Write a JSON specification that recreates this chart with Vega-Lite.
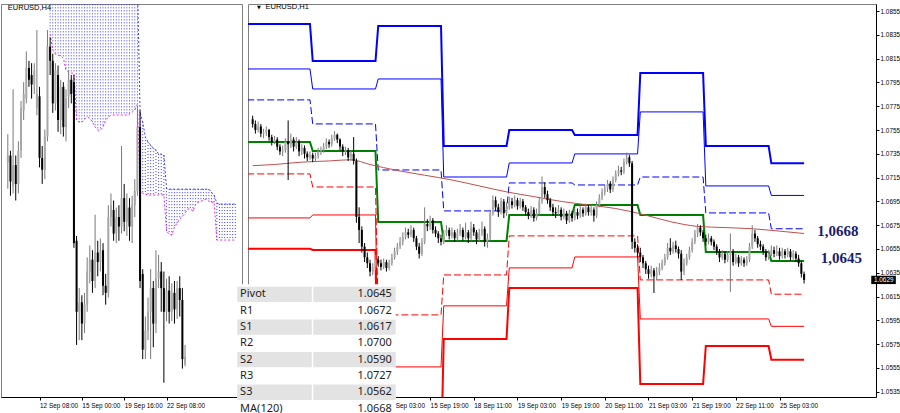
{
"$schema":"https://vega.github.io/schema/vega-lite/v6.json",
"padding":{"left":0,"top":2,"right":0,"bottom":0},
"background":"#ffffff",
"bounds":"flush",
"spacing":6,
"config":{"view":{"stroke":"#808080","strokeWidth":1},"axis":{"labelFont":"Liberation Sans","labelFontSize":6.4,"labelColor":"#000000","tickColor":"#000000","domainColor":"#000000","grid":false,"labelOverlap":false,"labelSeparation":0}},
"datasets":{
"cloud":[
{"j":4,"top":1.079,"bot":1.07673},{"j":5,"top":1.079,"bot":1.07605},{"j":6,"top":1.079,"bot":1.07588},{"j":7,"top":1.079,"bot":1.07584},{"j":8,"top":1.079,"bot":1.0758},{"j":9,"top":1.079,"bot":1.07571},{"j":10,"top":1.079,"bot":1.07521},{"j":11,"top":1.079,"bot":1.07512},{"j":12,"top":1.079,"bot":1.07508},{"j":13,"top":1.079,"bot":1.07508},{"j":14,"top":1.079,"bot":1.0731},{"j":15,"top":1.079,"bot":1.07301},{"j":16,"top":1.079,"bot":1.07301},{"j":17,"top":1.079,"bot":1.07314},{"j":18,"top":1.079,"bot":1.07322},{"j":19,"top":1.079,"bot":1.07318},{"j":20,"top":1.079,"bot":1.07301},{"j":21,"top":1.079,"bot":1.0728},{"j":22,"top":1.079,"bot":1.07267},{"j":23,"top":1.079,"bot":1.07267},{"j":24,"top":1.079,"bot":1.0728},{"j":25,"top":1.079,"bot":1.0731},{"j":26,"top":1.079,"bot":1.07322},{"j":27,"top":1.079,"bot":1.07331},{"j":28,"top":1.079,"bot":1.07331},{"j":29,"top":1.079,"bot":1.07331},{"j":30,"top":1.079,"bot":1.07331},{"j":31,"top":1.079,"bot":1.07331},{"j":32,"top":1.079,"bot":1.07331},{"j":33,"top":1.079,"bot":1.07331},{"j":34,"top":1.079,"bot":1.07335},{"j":35,"top":1.079,"bot":1.07343},{"j":36,"top":1.079,"bot":1.07352},{"j":37,"top":1.079,"bot":1.07377},
{"j":38,"top":1.07343,"bot":1.07005},{"j":39,"top":1.07301,"bot":1.07001},{"j":40,"top":1.07238,"bot":1.06997},{"j":41,"top":1.07217,"bot":1.06993},{"j":42,"top":1.07204,"bot":1.06993},{"j":43,"top":1.07191,"bot":1.06993},{"j":44,"top":1.07183,"bot":1.06993},{"j":45,"top":1.07166,"bot":1.06993},{"j":46,"top":1.07166,"bot":1.06993},{"j":47,"top":1.07162,"bot":1.06993},{"j":48,"top":1.07022,"bot":1.06841},{"j":49,"top":1.07018,"bot":1.06828},{"j":50,"top":1.07018,"bot":1.06824},{"j":51,"top":1.07018,"bot":1.06858},{"j":52,"top":1.07018,"bot":1.06875},{"j":53,"top":1.07018,"bot":1.06892},{"j":54,"top":1.07018,"bot":1.06903},{"j":55,"top":1.07018,"bot":1.06916},{"j":56,"top":1.07018,"bot":1.06934},{"j":57,"top":1.07018,"bot":1.06934},{"j":58,"top":1.07018,"bot":1.06925},{"j":59,"top":1.07018,"bot":1.06955},{"j":60,"top":1.07018,"bot":1.06963},{"j":61,"top":1.07018,"bot":1.06967},{"j":62,"top":1.07018,"bot":1.06972},{"j":63,"top":1.07018,"bot":1.06976},{"j":64,"top":1.07018,"bot":1.06967},{"j":65,"top":1.07005,"bot":1.06963},{"j":66,"top":1.06993,"bot":1.06963},{"j":67,"top":1.06959,"bot":1.06803},{"j":68,"top":1.06955,"bot":1.06803},{"j":69,"top":1.06955,"bot":1.06803},{"j":70,"top":1.06955,"bot":1.06803},{"j":71,"top":1.06955,"bot":1.06803},{"j":72,"top":1.06955,"bot":1.06803},{"j":73,"top":1.06955,"bot":1.06803},{"j":74,"top":1.06955,"bot":1.06803}
],
"h4":[
{"j":-12,"o":1.0713,"h":1.0725,"l":1.0702,"c":1.0716},{"j":-11,"o":1.0716,"h":1.0718,"l":1.0699,"c":1.0705},{"j":-10,"o":1.0703,"h":1.0744,"l":1.07,"c":1.0712},{"j":-9,"o":1.0712,"h":1.0716,"l":1.0697,"c":1.0704},{"j":-8,"o":1.0704,"h":1.0722,"l":1.07,"c":1.0718},{"j":-7,"o":1.0718,"h":1.0739,"l":1.0715,"c":1.0736},{"j":-6,"o":1.0735,"h":1.0747,"l":1.0731,"c":1.0742},{"j":-5,"o":1.074,"h":1.076,"l":1.0738,"c":1.0753},{"j":-4,"o":1.0753,"h":1.0756,"l":1.0745,"c":1.0748},{"j":-3,"o":1.075,"h":1.0755,"l":1.074,"c":1.0746},{"j":-2,"o":1.0746,"h":1.0755,"l":1.0742,"c":1.0752},{"j":-1,"o":1.0736,"h":1.0769,"l":1.0733,"c":1.0742},
{"j":0,"o":1.0741,"h":1.0745,"l":1.0711,"c":1.0715},{"j":1,"o":1.0715,"h":1.072,"l":1.0704,"c":1.071},{"j":2,"o":1.071,"h":1.0727,"l":1.0706,"c":1.0724},{"j":3,"o":1.0724,"h":1.0769,"l":1.0722,"c":1.0762},{"j":4,"o":1.0762,"h":1.0766,"l":1.075,"c":1.0756},{"j":5,"o":1.0756,"h":1.0759,"l":1.0734,"c":1.0738},{"j":6,"o":1.0738,"h":1.0755,"l":1.0735,"c":1.0752},{"j":7,"o":1.075,"h":1.0754,"l":1.0726,"c":1.0731},{"j":8,"o":1.0731,"h":1.0748,"l":1.0725,"c":1.0745},{"j":9,"o":1.0745,"h":1.0747,"l":1.0724,"c":1.0728},{"j":10,"o":1.0728,"h":1.0744,"l":1.0722,"c":1.074},{"j":11,"o":1.0741,"h":1.0752,"l":1.0736,"c":1.0748},{"j":12,"o":1.0748,"h":1.075,"l":1.0738,"c":1.0742},{"j":13,"o":1.0747,"h":1.075,"l":1.0677,"c":1.0679},{"j":14,"o":1.068,"h":1.0682,"l":1.0636,"c":1.065},{"j":15,"o":1.065,"h":1.066,"l":1.0638,"c":1.0654},{"j":16,"o":1.0654,"h":1.0657,"l":1.0638,"c":1.0645},{"j":17,"o":1.0645,"h":1.0658,"l":1.0641,"c":1.0653},{"j":18,"o":1.0653,"h":1.0673,"l":1.065,"c":1.0667},{"j":19,"o":1.0667,"h":1.0678,"l":1.0662,"c":1.0672},{"j":20,"o":1.0672,"h":1.0676,"l":1.0658,"c":1.0663},{"j":21,"o":1.0663,"h":1.0691,"l":1.066,"c":1.0675},{"j":22,"o":1.0675,"h":1.068,"l":1.0665,"c":1.0671},{"j":23,"o":1.0671,"h":1.0681,"l":1.0667,"c":1.0676},{"j":24,"o":1.0676,"h":1.0679,"l":1.0657,"c":1.0661},{"j":25,"o":1.0661,"h":1.0666,"l":1.0653,"c":1.0658},{"j":26,"o":1.0658,"h":1.0695,"l":1.0656,"c":1.069},{"j":27,"o":1.069,"h":1.07,"l":1.0686,"c":1.0695},{"j":28,"o":1.0693,"h":1.0697,"l":1.068,"c":1.0683},{"j":29,"o":1.0683,"h":1.0694,"l":1.0679,"c":1.069},{"j":30,"o":1.069,"h":1.0695,"l":1.068,"c":1.0686},{"j":31,"o":1.0686,"h":1.072,"l":1.0683,"c":1.0698},{"j":32,"o":1.0698,"h":1.0704,"l":1.0684,"c":1.0688},{"j":33,"o":1.0688,"h":1.07,"l":1.0682,"c":1.0694},{"j":34,"o":1.0694,"h":1.0698,"l":1.068,"c":1.0686},{"j":35,"o":1.0686,"h":1.0699,"l":1.0679,"c":1.0695},{"j":36,"o":1.0695,"h":1.0706,"l":1.069,"c":1.0701},{"j":37,"o":1.0701,"h":1.0736,"l":1.0699,"c":1.0728},{"j":38,"o":1.0728,"h":1.0735,"l":1.066,"c":1.0663},{"j":39,"o":1.0666,"h":1.0668,"l":1.063,"c":1.0634},{"j":40,"o":1.0634,"h":1.0648,"l":1.063,"c":1.0642},{"j":41,"o":1.0642,"h":1.0656,"l":1.0638,"c":1.065},{"j":42,"o":1.065,"h":1.0668,"l":1.063,"c":1.066},{"j":43,"o":1.066,"h":1.0663,"l":1.0635,"c":1.0645},{"j":44,"o":1.0645,"h":1.0676,"l":1.0641,"c":1.0664},{"j":45,"o":1.0664,"h":1.0674,"l":1.066,"c":1.0667},{"j":46,"o":1.0667,"h":1.0671,"l":1.065,"c":1.066},{"j":47,"o":1.066,"h":1.0667,"l":1.062,"c":1.065},{"j":48,"o":1.065,"h":1.0664,"l":1.0646,"c":1.0659},{"j":49,"o":1.0659,"h":1.0665,"l":1.0645,"c":1.065},{"j":50,"o":1.065,"h":1.0662,"l":1.0646,"c":1.0658},{"j":51,"o":1.0658,"h":1.0663,"l":1.0645,"c":1.0651},{"j":52,"o":1.0651,"h":1.0663,"l":1.0647,"c":1.066},{"j":53,"o":1.066,"h":1.0665,"l":1.0648,"c":1.0655},{"j":54,"o":1.0655,"h":1.066,"l":1.0626,"c":1.063},{"j":55,"o":1.0628,"h":1.0636,"l":1.0627,"c":1.0631}
],
"h1":[
{"i":2,"o":1.0764,"h":1.0767,"l":1.0757,"c":1.076},{"i":3,"o":1.076,"h":1.0763,"l":1.0752,"c":1.0755},{"i":4,"o":1.0755,"h":1.0762,"l":1.0753,"c":1.0758},{"i":5,"o":1.0758,"h":1.076,"l":1.0749,"c":1.0752},{"i":6,"o":1.0752,"h":1.0756,"l":1.0748,"c":1.0753},{"i":7,"o":1.0753,"h":1.0758,"l":1.075,"c":1.0755},{"i":8,"o":1.0755,"h":1.0756,"l":1.0746,"c":1.0749},{"i":9,"o":1.0749,"h":1.0751,"l":1.0742,"c":1.0745},{"i":10,"o":1.0745,"h":1.075,"l":1.0743,"c":1.0747},{"i":11,"o":1.0747,"h":1.0749,"l":1.0738,"c":1.0741},{"i":12,"o":1.0741,"h":1.0743,"l":1.0734,"c":1.0737},{"i":13,"o":1.0737,"h":1.0742,"l":1.0733,"c":1.0738},{"i":14,"o":1.0738,"h":1.0748,"l":1.0736,"c":1.0745},{"i":15,"o":1.0745,"h":1.0763,"l":1.0713,"c":1.0743},{"i":16,"o":1.0743,"h":1.0752,"l":1.074,"c":1.0747},{"i":17,"o":1.0747,"h":1.0749,"l":1.0737,"c":1.0741},{"i":18,"o":1.0741,"h":1.0749,"l":1.0739,"c":1.0745},{"i":19,"o":1.0745,"h":1.0747,"l":1.0733,"c":1.0737},{"i":20,"o":1.0737,"h":1.0743,"l":1.0734,"c":1.074},{"i":21,"o":1.074,"h":1.0742,"l":1.0731,"c":1.0735},{"i":22,"o":1.0735,"h":1.0737,"l":1.0729,"c":1.0732},{"i":23,"o":1.0732,"h":1.0737,"l":1.073,"c":1.0734},{"i":24,"o":1.0734,"h":1.0736,"l":1.0728,"c":1.0731},{"i":25,"o":1.0731,"h":1.0736,"l":1.0729,"c":1.0733},{"i":26,"o":1.0733,"h":1.074,"l":1.0731,"c":1.0737},{"i":27,"o":1.0737,"h":1.0741,"l":1.0734,"c":1.0738},{"i":28,"o":1.0738,"h":1.0744,"l":1.0736,"c":1.0741},{"i":29,"o":1.0741,"h":1.0748,"l":1.0739,"c":1.0745},{"i":30,"o":1.0745,"h":1.0747,"l":1.074,"c":1.0743},{"i":31,"o":1.0743,"h":1.0751,"l":1.0741,"c":1.0748},{"i":32,"o":1.0748,"h":1.0754,"l":1.0746,"c":1.0751},{"i":33,"o":1.0751,"h":1.0752,"l":1.0744,"c":1.0747},{"i":34,"o":1.0747,"h":1.0748,"l":1.0738,"c":1.0741},{"i":35,"o":1.0741,"h":1.0743,"l":1.0733,"c":1.0737},{"i":36,"o":1.0737,"h":1.0741,"l":1.0734,"c":1.0738},{"i":37,"o":1.0738,"h":1.074,"l":1.0729,"c":1.0732},{"i":38,"o":1.0732,"h":1.0738,"l":1.0729,"c":1.0735},{"i":39,"o":1.0735,"h":1.0749,"l":1.0726,"c":1.0729},{"i":40,"o":1.0729,"h":1.0731,"l":1.0677,"c":1.0682},{"i":41,"o":1.0682,"h":1.069,"l":1.066,"c":1.0671},{"i":42,"o":1.0671,"h":1.0674,"l":1.0652,"c":1.0657},{"i":43,"o":1.0657,"h":1.066,"l":1.0644,"c":1.0648},{"i":44,"o":1.0648,"h":1.0652,"l":1.0639,"c":1.0643},{"i":45,"o":1.0643,"h":1.0646,"l":1.0632,"c":1.0636},{"i":46,"o":1.0636,"h":1.0643,"l":1.0633,"c":1.064},{"i":47,"o":1.064,"h":1.065,"l":1.0637,"c":1.0646},{"i":48,"o":1.0646,"h":1.0649,"l":1.064,"c":1.0643},{"i":49,"o":1.0643,"h":1.0646,"l":1.0637,"c":1.064},{"i":50,"o":1.064,"h":1.0647,"l":1.0638,"c":1.0644},
{"i":51,"o":1.0644,"h":1.0646,"l":1.0636,"c":1.0639},{"i":52,"o":1.0639,"h":1.0646,"l":1.0637,"c":1.0643},{"i":53,"o":1.0643,"h":1.0651,"l":1.0641,"c":1.0648},{"i":54,"o":1.0648,"h":1.0656,"l":1.0646,"c":1.0653},{"i":55,"o":1.0653,"h":1.066,"l":1.065,"c":1.0657},{"i":56,"o":1.0657,"h":1.0665,"l":1.0655,"c":1.0661},{"i":57,"o":1.0661,"h":1.0669,"l":1.0658,"c":1.0665},{"i":58,"o":1.0665,"h":1.0673,"l":1.0663,"c":1.0669},{"i":59,"o":1.0669,"h":1.0672,"l":1.0664,"c":1.0667},{"i":60,"o":1.0667,"h":1.0675,"l":1.0665,"c":1.0671},{"i":61,"o":1.0671,"h":1.0673,"l":1.0661,"c":1.0664},{"i":62,"o":1.0664,"h":1.0666,"l":1.0654,"c":1.0657},{"i":63,"o":1.0657,"h":1.066,"l":1.0647,"c":1.0651},{"i":64,"o":1.0651,"h":1.0664,"l":1.0649,"c":1.0661},{"i":65,"o":1.0661,"h":1.069,"l":1.0659,"c":1.0676},{"i":66,"o":1.0676,"h":1.068,"l":1.067,"c":1.0674},{"i":67,"o":1.0674,"h":1.0683,"l":1.0671,"c":1.0679},{"i":68,"o":1.0679,"h":1.0681,"l":1.0668,"c":1.0671},{"i":69,"o":1.0671,"h":1.0674,"l":1.0665,"c":1.0668},{"i":70,"o":1.0668,"h":1.067,"l":1.066,"c":1.0664},{"i":71,"o":1.0664,"h":1.0667,"l":1.0658,"c":1.0661},{"i":72,"o":1.0661,"h":1.0671,"l":1.0659,"c":1.0668},{"i":73,"o":1.0668,"h":1.0675,"l":1.0666,"c":1.0671},{"i":74,"o":1.0671,"h":1.0673,"l":1.0663,"c":1.0666},{"i":75,"o":1.0666,"h":1.0673,"l":1.0664,"c":1.0669},{"i":76,"o":1.0669,"h":1.0671,"l":1.0661,"c":1.0664},{"i":77,"o":1.0664,"h":1.0672,"l":1.0662,"c":1.0668},{"i":78,"o":1.0668,"h":1.0676,"l":1.0666,"c":1.0671},{"i":79,"o":1.0671,"h":1.0673,"l":1.0662,"c":1.0665},{"i":80,"o":1.0665,"h":1.0677,"l":1.0663,"c":1.0669},{"i":81,"o":1.0669,"h":1.0671,"l":1.066,"c":1.0664},{"i":82,"o":1.0664,"h":1.0678,"l":1.0662,"c":1.0673},{"i":83,"o":1.0673,"h":1.0676,"l":1.0666,"c":1.0669},{"i":84,"o":1.0669,"h":1.0671,"l":1.0659,"c":1.0663},{"i":85,"o":1.0663,"h":1.0672,"l":1.0661,"c":1.0668},{"i":86,"o":1.0668,"h":1.0678,"l":1.0666,"c":1.0672},{"i":87,"o":1.0672,"h":1.0674,"l":1.0657,"c":1.0661},{"i":88,"o":1.0661,"h":1.0668,"l":1.0656,"c":1.0664},{"i":89,"o":1.0664,"h":1.0688,"l":1.0662,"c":1.0685},{"i":90,"o":1.0685,"h":1.07,"l":1.0683,"c":1.0696},{"i":91,"o":1.0696,"h":1.0699,"l":1.0687,"c":1.069},{"i":92,"o":1.069,"h":1.0693,"l":1.0682,"c":1.0686},{"i":93,"o":1.0686,"h":1.0698,"l":1.0684,"c":1.0695},{"i":94,"o":1.0695,"h":1.0697,"l":1.0681,"c":1.0685},{"i":95,"o":1.0685,"h":1.0694,"l":1.0683,"c":1.069},{"i":96,"o":1.069,"h":1.0699,"l":1.0688,"c":1.0695},{"i":97,"o":1.0695,"h":1.0698,"l":1.0689,"c":1.0692},{"i":98,"o":1.0692,"h":1.07,"l":1.069,"c":1.0696},{"i":99,"o":1.0696,"h":1.0698,"l":1.0688,"c":1.0691},{"i":100,"o":1.0691,"h":1.0698,"l":1.0689,"c":1.0695},
{"i":101,"o":1.0695,"h":1.0697,"l":1.0687,"c":1.069},{"i":102,"o":1.069,"h":1.0692,"l":1.0683,"c":1.0686},{"i":103,"o":1.0686,"h":1.0689,"l":1.068,"c":1.0683},{"i":104,"o":1.0683,"h":1.0691,"l":1.0681,"c":1.0688},{"i":105,"o":1.0688,"h":1.069,"l":1.0678,"c":1.0681},{"i":106,"o":1.0681,"h":1.0689,"l":1.0679,"c":1.0685},{"i":107,"o":1.0685,"h":1.0699,"l":1.0683,"c":1.0695},{"i":108,"o":1.0695,"h":1.0716,"l":1.0693,"c":1.0707},{"i":109,"o":1.0707,"h":1.0711,"l":1.0698,"c":1.0701},{"i":110,"o":1.0701,"h":1.0704,"l":1.0693,"c":1.0696},{"i":111,"o":1.0696,"h":1.0698,"l":1.0687,"c":1.069},{"i":112,"o":1.069,"h":1.0693,"l":1.0683,"c":1.0686},{"i":113,"o":1.0686,"h":1.069,"l":1.0681,"c":1.0685},{"i":114,"o":1.0685,"h":1.0692,"l":1.0683,"c":1.0688},{"i":115,"o":1.0688,"h":1.069,"l":1.0679,"c":1.0682},{"i":116,"o":1.0682,"h":1.0689,"l":1.068,"c":1.0685},{"i":117,"o":1.0685,"h":1.0687,"l":1.0676,"c":1.0679},{"i":118,"o":1.0679,"h":1.0688,"l":1.0677,"c":1.0685},{"i":119,"o":1.0685,"h":1.0687,"l":1.0678,"c":1.0681},{"i":120,"o":1.0681,"h":1.0689,"l":1.0679,"c":1.0686},{"i":121,"o":1.0686,"h":1.0689,"l":1.068,"c":1.0683},{"i":122,"o":1.0683,"h":1.0691,"l":1.0681,"c":1.0688},{"i":123,"o":1.0688,"h":1.069,"l":1.0682,"c":1.0685},{"i":124,"o":1.0685,"h":1.0693,"l":1.0683,"c":1.069},{"i":125,"o":1.069,"h":1.0692,"l":1.0683,"c":1.0686},{"i":126,"o":1.0686,"h":1.0691,"l":1.0683,"c":1.0688},{"i":127,"o":1.0688,"h":1.069,"l":1.0678,"c":1.0683},{"i":128,"o":1.0683,"h":1.0695,"l":1.0681,"c":1.0692},{"i":129,"o":1.0692,"h":1.0701,"l":1.069,"c":1.0698},{"i":130,"o":1.0698,"h":1.0706,"l":1.0696,"c":1.0703},{"i":131,"o":1.0703,"h":1.0709,"l":1.07,"c":1.0706},{"i":132,"o":1.0706,"h":1.0713,"l":1.0703,"c":1.071},{"i":133,"o":1.071,"h":1.0712,"l":1.0702,"c":1.0705},{"i":134,"o":1.0705,"h":1.0716,"l":1.0703,"c":1.0713},{"i":135,"o":1.0713,"h":1.0721,"l":1.0711,"c":1.0718},{"i":136,"o":1.0718,"h":1.0725,"l":1.0716,"c":1.0721},{"i":137,"o":1.0721,"h":1.0724,"l":1.0717,"c":1.072},{"i":138,"o":1.072,"h":1.0731,"l":1.0718,"c":1.0728},{"i":139,"o":1.0728,"h":1.0736,"l":1.0726,"c":1.0732},{"i":140,"o":1.0732,"h":1.0734,"l":1.0724,"c":1.0727},{"i":141,"o":1.0727,"h":1.0729,"l":1.0655,"c":1.0661},{"i":142,"o":1.0661,"h":1.0664,"l":1.0652,"c":1.0656},{"i":143,"o":1.0656,"h":1.0659,"l":1.0648,"c":1.0652},{"i":144,"o":1.0652,"h":1.0656,"l":1.0644,"c":1.0648},{"i":145,"o":1.0648,"h":1.065,"l":1.0639,"c":1.0643},{"i":146,"o":1.0643,"h":1.0645,"l":1.0634,"c":1.0638},{"i":147,"o":1.0638,"h":1.0641,"l":1.063,"c":1.0634},{"i":148,"o":1.0634,"h":1.0641,"l":1.0631,"c":1.0637},{"i":149,"o":1.0637,"h":1.0639,"l":1.0618,"c":1.0632},{"i":150,"o":1.0632,"h":1.064,"l":1.0629,"c":1.0636},
{"i":151,"o":1.0636,"h":1.0643,"l":1.0633,"c":1.0639},{"i":152,"o":1.0639,"h":1.0646,"l":1.0637,"c":1.0643},{"i":153,"o":1.0643,"h":1.0651,"l":1.0641,"c":1.0648},{"i":154,"o":1.0648,"h":1.066,"l":1.0646,"c":1.0656},{"i":155,"o":1.0656,"h":1.0664,"l":1.065,"c":1.0653},{"i":156,"o":1.0653,"h":1.0661,"l":1.0651,"c":1.0658},{"i":157,"o":1.0658,"h":1.0662,"l":1.0652,"c":1.0655},{"i":158,"o":1.0655,"h":1.0657,"l":1.0647,"c":1.0651},{"i":159,"o":1.0651,"h":1.0654,"l":1.0629,"c":1.0636},{"i":160,"o":1.0636,"h":1.0647,"l":1.0633,"c":1.0643},{"i":161,"o":1.0643,"h":1.0651,"l":1.0641,"c":1.0648},{"i":162,"o":1.0648,"h":1.0657,"l":1.0646,"c":1.0654},{"i":163,"o":1.0654,"h":1.0664,"l":1.0652,"c":1.0661},{"i":164,"o":1.0661,"h":1.0671,"l":1.0659,"c":1.0668},{"i":165,"o":1.0668,"h":1.0676,"l":1.0665,"c":1.0673},{"i":166,"o":1.0673,"h":1.0675,"l":1.0666,"c":1.0669},{"i":167,"o":1.0669,"h":1.0671,"l":1.0661,"c":1.0664},{"i":168,"o":1.0664,"h":1.0667,"l":1.0658,"c":1.0661},{"i":169,"o":1.0661,"h":1.0668,"l":1.0659,"c":1.0664},{"i":170,"o":1.0664,"h":1.0666,"l":1.0658,"c":1.0661},{"i":171,"o":1.0661,"h":1.0663,"l":1.0654,"c":1.0657},{"i":172,"o":1.0657,"h":1.0659,"l":1.065,"c":1.0653},{"i":173,"o":1.0653,"h":1.0655,"l":1.0644,"c":1.0648},{"i":174,"o":1.0648,"h":1.0654,"l":1.0646,"c":1.0651},{"i":175,"o":1.0651,"h":1.0653,"l":1.0643,"c":1.0646},{"i":176,"o":1.0646,"h":1.0653,"l":1.0644,"c":1.065},{"i":177,"o":1.065,"h":1.0668,"l":1.0619,"c":1.0653},{"i":178,"o":1.0653,"h":1.0655,"l":1.0641,"c":1.0644},{"i":179,"o":1.0644,"h":1.0651,"l":1.0642,"c":1.0648},{"i":180,"o":1.0648,"h":1.065,"l":1.064,"c":1.0643},{"i":181,"o":1.0643,"h":1.0649,"l":1.0641,"c":1.0646},{"i":182,"o":1.0646,"h":1.0648,"l":1.064,"c":1.0643},{"i":183,"o":1.0643,"h":1.0649,"l":1.0641,"c":1.0646},{"i":184,"o":1.0646,"h":1.066,"l":1.0644,"c":1.0657},{"i":185,"o":1.0657,"h":1.0675,"l":1.0655,"c":1.0668},{"i":186,"o":1.0668,"h":1.0671,"l":1.0661,"c":1.0664},{"i":187,"o":1.0664,"h":1.0666,"l":1.0656,"c":1.0659},{"i":188,"o":1.0659,"h":1.0662,"l":1.0654,"c":1.0657},{"i":189,"o":1.0657,"h":1.0659,"l":1.065,"c":1.0653},{"i":190,"o":1.0653,"h":1.0655,"l":1.0645,"c":1.0648},{"i":191,"o":1.0648,"h":1.0654,"l":1.0646,"c":1.0651},{"i":192,"o":1.0651,"h":1.0658,"l":1.0649,"c":1.0654},{"i":193,"o":1.0654,"h":1.0657,"l":1.0648,"c":1.0651},{"i":194,"o":1.0651,"h":1.0658,"l":1.0649,"c":1.0653},{"i":195,"o":1.0653,"h":1.0656,"l":1.0646,"c":1.0649},{"i":196,"o":1.0649,"h":1.0656,"l":1.0647,"c":1.0653},{"i":197,"o":1.0653,"h":1.0655,"l":1.0647,"c":1.065},{"i":198,"o":1.065,"h":1.0656,"l":1.0648,"c":1.0653},{"i":199,"o":1.0653,"h":1.0655,"l":1.0645,"c":1.0648},{"i":200,"o":1.0648,"h":1.0654,"l":1.0646,"c":1.0651},{"i":201,"o":1.0651,"h":1.0653,"l":1.0644,"c":1.0647},{"i":202,"o":1.0647,"h":1.065,"l":1.064,"c":1.0643},{"i":203,"o":1.0643,"h":1.0645,"l":1.0631,"c":1.0634},{"i":204,"o":1.0634,"h":1.0636,"l":1.0626,"c":1.0629}
],
"lv":[
{"k":"R3","i":0,"v":1.08441},{"k":"R3","i":23,"v":1.08441},{"k":"R3","i":24,"v":1.0813},{"k":"R3","i":47,"v":1.0813},{"k":"R3","i":48,"v":1.08424},{"k":"R3","i":71,"v":1.08424},{"k":"R3","i":72,"v":1.07416},{"k":"R3","i":95,"v":1.07416},{"k":"R3","i":96,"v":1.0755},{"k":"R3","i":119,"v":1.0755},{"k":"R3","i":120,"v":1.07508},{"k":"R3","i":143,"v":1.07508},{"k":"R3","i":144,"v":1.08029},{"k":"R3","i":167,"v":1.08029},{"k":"R3","i":168,"v":1.07416},{"k":"R3","i":191,"v":1.07416},{"k":"R3","i":192,"v":1.0727},{"k":"R3","i":204,"v":1.0727},
{"k":"R2","i":0,"v":1.08063},{"k":"R2","i":23,"v":1.08063},{"k":"R2","i":24,"v":1.07895},{"k":"R2","i":47,"v":1.07895},{"k":"R2","i":48,"v":1.07979},{"k":"R2","i":71,"v":1.07979},{"k":"R2","i":72,"v":1.07155},{"k":"R2","i":95,"v":1.07155},{"k":"R2","i":96,"v":1.07273},{"k":"R2","i":119,"v":1.07273},{"k":"R2","i":120,"v":1.07349},{"k":"R2","i":143,"v":1.07349},{"k":"R2","i":144,"v":1.07702},{"k":"R2","i":167,"v":1.07702},{"k":"R2","i":168,"v":1.0708},{"k":"R2","i":191,"v":1.0708},{"k":"R2","i":192,"v":1.07},{"k":"R2","i":204,"v":1.07},
{"k":"R1","i":0,"v":1.07803},{"k":"R1","i":23,"v":1.07803},{"k":"R1","i":24,"v":1.07601},{"k":"R1","i":47,"v":1.07601},{"k":"R1","i":48,"v":1.07214},{"k":"R1","i":71,"v":1.07214},{"k":"R1","i":72,"v":1.0687},{"k":"R1","i":95,"v":1.0687},{"k":"R1","i":96,"v":1.07105},{"k":"R1","i":119,"v":1.07105},{"k":"R1","i":120,"v":1.07088},{"k":"R1","i":143,"v":1.07088},{"k":"R1","i":144,"v":1.07155},{"k":"R1","i":167,"v":1.07155},{"k":"R1","i":168,"v":1.06853},{"k":"R1","i":191,"v":1.06853},{"k":"R1","i":192,"v":1.0672},{"k":"R1","i":204,"v":1.0672},
{"k":"P","i":0,"v":1.0745},{"k":"P","i":23,"v":1.0745},{"k":"P","i":24,"v":1.07374},{"k":"P","i":47,"v":1.07374},{"k":"P","i":48,"v":1.06777},{"k":"P","i":71,"v":1.06777},{"k":"P","i":72,"v":1.06618},{"k":"P","i":95,"v":1.06618},{"k":"P","i":96,"v":1.06836},{"k":"P","i":119,"v":1.06836},{"k":"P","i":120,"v":1.0692},{"k":"P","i":143,"v":1.0692},{"k":"P","i":144,"v":1.06836},{"k":"P","i":167,"v":1.06836},{"k":"P","i":168,"v":1.06525},{"k":"P","i":191,"v":1.06525},{"k":"P","i":192,"v":1.0645},{"k":"P","i":204,"v":1.0645},
{"k":"S1","i":0,"v":1.07181},{"k":"S1","i":23,"v":1.07181},{"k":"S1","i":24,"v":1.07071},{"k":"S1","i":47,"v":1.07071},{"k":"S1","i":48,"v":1.05996},{"k":"S1","i":71,"v":1.05996},{"k":"S1","i":72,"v":1.06332},{"k":"S1","i":95,"v":1.06332},{"k":"S1","i":96,"v":1.0666},{"k":"S1","i":119,"v":1.0666},{"k":"S1","i":120,"v":1.0666},{"k":"S1","i":143,"v":1.0666},{"k":"S1","i":144,"v":1.0629},{"k":"S1","i":167,"v":1.0629},{"k":"S1","i":168,"v":1.0629},{"k":"S1","i":191,"v":1.0629},{"k":"S1","i":192,"v":1.0617},{"k":"S1","i":204,"v":1.0617},
{"k":"S2","i":0,"v":1.06811},{"k":"S2","i":23,"v":1.06811},{"k":"S2","i":24,"v":1.06836},{"k":"S2","i":47,"v":1.06836},{"k":"S2","i":48,"v":1.05559},{"k":"S2","i":71,"v":1.05559},{"k":"S2","i":72,"v":1.06072},{"k":"S2","i":95,"v":1.06072},{"k":"S2","i":96,"v":1.06391},{"k":"S2","i":119,"v":1.06391},{"k":"S2","i":120,"v":1.06483},{"k":"S2","i":143,"v":1.06483},{"k":"S2","i":144,"v":1.05962},{"k":"S2","i":167,"v":1.05962},{"k":"S2","i":168,"v":1.05962},{"k":"S2","i":191,"v":1.05962},{"k":"S2","i":192,"v":1.059},{"k":"S2","i":204,"v":1.059},
{"k":"S3","i":0,"v":1.06551},{"k":"S3","i":23,"v":1.06551},{"k":"S3","i":24,"v":1.06542},{"k":"S3","i":47,"v":1.06542},{"k":"S3","i":48,"v":1.0478},{"k":"S3","i":71,"v":1.0478},{"k":"S3","i":72,"v":1.05794},{"k":"S3","i":95,"v":1.05794},{"k":"S3","i":96,"v":1.06223},{"k":"S3","i":119,"v":1.06223},{"k":"S3","i":120,"v":1.06223},{"k":"S3","i":143,"v":1.06223},{"k":"S3","i":144,"v":1.05416},{"k":"S3","i":167,"v":1.05416},{"k":"S3","i":168,"v":1.05735},{"k":"S3","i":191,"v":1.05735},{"k":"S3","i":192,"v":1.0562},{"k":"S3","i":204,"v":1.0562}
],
"ma":[
{"i":2,"v":1.0725},{"i":10,"v":1.0726},{"i":20,"v":1.0728},{"i":30,"v":1.0729},{"i":38,"v":1.073},{"i":45,"v":1.0726},{"i":55,"v":1.0721},{"i":65,"v":1.0717},{"i":75,"v":1.0713},{"i":85,"v":1.0708},{"i":95,"v":1.0703},{"i":105,"v":1.0699},{"i":115,"v":1.0695},{"i":125,"v":1.0692},{"i":135,"v":1.0689},{"i":145,"v":1.0684},{"i":155,"v":1.0678},{"i":165,"v":1.0674},{"i":175,"v":1.0673},{"i":185,"v":1.0672},{"i":195,"v":1.067},{"i":204,"v":1.0668}
],
"tbl":[
{"r":0,"n":"Pivot","val":"1.0645"},{"r":1,"n":"R1","val":"1.0672"},{"r":2,"n":"S1","val":"1.0617"},{"r":3,"n":"R2","val":"1.0700"},{"r":4,"n":"S2","val":"1.0590"},{"r":5,"n":"R3","val":"1.0727"},{"r":6,"n":"S3","val":"1.0562"},{"r":7,"n":"MA(120)","val":"1.0668"}
]
},
"hconcat":[
{
"width":241,"height":393,
"layer":[
{"data":{"name":"cloud"},"mark":{"type":"rule","color":"#3c3cff","strokeWidth":1,"strokeDash":[1,2],"clip":true},
 "encoding":{
  "x":{"field":"j","type":"quantitative","scale":{"domain":[-12.68,74.64],"nice":false,"zero":false},
       "axis":{"values":[0,16,32,48],"tickCount":10,"labelExpr":"datum.value==0?'12 Sep 08:00':datum.value==16?'15 Sep 00:00':datum.value==32?'19 Sep 16:00':'22 Sep 08:00'","labelAlign":"left","labelPadding":2,"tickSize":3,"title":null,"labelOverlap":false,"labelFlush":false,"labelBound":false}},
  "y":{"field":"top","type":"quantitative","scale":{"domain":[1.0614,1.078],"nice":false,"zero":false},"axis":null},
  "y2":{"field":"bot"}}},
{"data":{"name":"cloud"},"mark":{"type":"line","color":"#ee22ee","strokeWidth":1,"strokeDash":[2,2],"clip":true},
 "encoding":{"x":{"field":"j","type":"quantitative"},"y":{"field":"bot","type":"quantitative"}}},
{"data":{"name":"cloud"},"mark":{"type":"line","color":"#3c3cff","strokeWidth":1,"strokeDash":[2,2],"clip":true},
 "encoding":{"x":{"field":"j","type":"quantitative"},"y":{"field":"top","type":"quantitative"}}},
{"data":{"name":"h4"},"mark":{"type":"rule","strokeWidth":1,"clip":true},
 "encoding":{"x":{"field":"j","type":"quantitative"},"y":{"field":"l","type":"quantitative"},"y2":{"field":"h"},
  "color":{"condition":{"test":"datum.c>=datum.o","value":"#7a7a7a"},"value":"#000000"}}},
{"data":{"name":"h4"},"mark":{"type":"bar","width":2,"clip":true},
 "encoding":{"x":{"field":"j","type":"quantitative"},"y":{"field":"o","type":"quantitative"},"y2":{"field":"c"},
  "color":{"condition":{"test":"datum.c>=datum.o","value":"#a8a8a8"},"value":"#000000"}}},
{"data":{"values":[{"t":"EURUSD,H4"}]},"mark":{"type":"text","align":"left","baseline":"middle","font":"Liberation Sans","fontSize":7.5,"color":"#000000"},
 "encoding":{"x":{"datum":-12},"y":{"datum":1.07785},"text":{"field":"t"}}}
]
},
{
"width":628,"height":393,
"layer":[
{"layer":[
 {"data":{"name":"lv"},"transform":[{"filter":"datum.k=='R3'||datum.k=='P'||datum.k=='S3'"}],"mark":{"type":"line","strokeWidth":2,"clip":true},
  "encoding":{
   "x":{"field":"i","type":"quantitative","scale":{"domain":[2.127,228.51],"nice":false,"zero":false},
        "axis":{"values":[51,67,83,99,115,131,147,163,179,195],"tickCount":30,"labelExpr":"['13 Sep','14 Sep','15 Sep','18 Sep','19 Sep','20 Sep','21 Sep','22 Sep','25 Sep'][floor(datum.value/24)]+' '+(datum.value%24<10?'0':'')+(datum.value%24)+':00'","labelAlign":"left","labelPadding":2,"tickSize":3,"title":null,"labelOverlap":false,"labelFlush":false,"labelBound":false}},
   "y":{"field":"v","type":"quantitative","scale":{"domain":[1.05306,1.08609],"nice":false,"zero":false},
        "axis":{"orient":"right","values":[1.0535,1.0555,1.0575,1.0595,1.0615,1.0635,1.0655,1.0675,1.0695,1.0715,1.0735,1.0755,1.0775,1.0795,1.0815,1.0835,1.0855],"tickCount":40,"format":".4f","tickSize":3,"labelPadding":1,"title":null,"labelOverlap":false,"labelFlush":false,"labelBound":false,"labelSeparation":0,"labelFontSize":6.4}},
   "color":{"field":"k","type":"nominal","scale":{"domain":["R3","R2","R1","P","S1","S2","S3"],"range":["#0000ff","#0000ff","#0000ff","#008000","#ff0000","#ff0000","#ff0000"]},"legend":null}}},
 {"data":{"name":"lv"},"transform":[{"filter":"datum.k=='R2'||datum.k=='S2'"}],"mark":{"type":"line","strokeWidth":1,"clip":true},
  "encoding":{"x":{"field":"i","type":"quantitative"},"y":{"field":"v","type":"quantitative"},
   "color":{"field":"k","type":"nominal","legend":null}}},
 {"data":{"name":"lv"},"transform":[{"filter":"datum.k=='R1'||datum.k=='S1'"}],"mark":{"type":"line","strokeWidth":1,"strokeDash":[7,3],"clip":true},
  "encoding":{"x":{"field":"i","type":"quantitative"},"y":{"field":"v","type":"quantitative"},
   "color":{"field":"k","type":"nominal","legend":null}}},
 {"data":{"name":"ma"},"mark":{"type":"line","strokeWidth":1,"color":"#c0504d","clip":true,"interpolate":"monotone"},
  "encoding":{"x":{"field":"i","type":"quantitative"},"y":{"field":"v","type":"quantitative"}}},
 {"data":{"name":"h1"},"mark":{"type":"rule","strokeWidth":1,"clip":true},
  "encoding":{"x":{"field":"i","type":"quantitative"},"y":{"field":"l","type":"quantitative"},"y2":{"field":"h"},
   "color":{"condition":{"test":"datum.c>=datum.o","value":"#7a7a7a"},"value":"#000000"}}},
 {"data":{"name":"h1"},"mark":{"type":"bar","width":2,"clip":true},
  "encoding":{"x":{"field":"i","type":"quantitative"},"y":{"field":"o","type":"quantitative"},"y2":{"field":"c"},
   "color":{"condition":{"test":"datum.c>=datum.o","value":"#a8a8a8"},"value":"#000000"}}},
 {"data":{"values":[{"t":"1,0668","v":1.0668,"p":216.4},{"t":"1,0645","v":1.0645,"p":217.7}]},"mark":{"type":"text","font":"Liberation Serif","fontWeight":"bold","fontSize":15,"color":"#1b1b6f","baseline":"middle","align":"center","dy":-3},
  "encoding":{"x":{"field":"p","type":"quantitative"},"y":{"field":"v","type":"quantitative"},"text":{"field":"t"}}},
 {"data":{"values":[{"v":1.0629}]},"mark":{"type":"rect","color":"#000000"},
  "encoding":{"x":{"datum":228.6},"x2":{"datum":237.6},"y":{"datum":1.06325},"y2":{"datum":1.06255}}},
 {"data":{"values":[{"t":"1.0629","v":1.0629}]},"mark":{"type":"text","align":"left","baseline":"middle","font":"Liberation Sans","fontSize":6.4,"color":"#ffffff"},
  "encoding":{"x":{"datum":229.6},"y":{"field":"v","type":"quantitative"},"text":{"field":"t"}}},
 {"data":{"values":[{"t":"▼"}]},"mark":{"type":"text","align":"center","baseline":"middle","font":"DejaVu Sans","fontSize":5,"color":"#000000"},
  "encoding":{"x":{"datum":4.3},"y":{"datum":1.0858},"text":{"field":"t"}}},
 {"data":{"values":[{"t":"EURUSD,H1"}]},"mark":{"type":"text","align":"left","baseline":"middle","font":"Liberation Sans","fontSize":7.5,"color":"#000000"},
  "encoding":{"x":{"datum":6.7},"y":{"datum":1.0858},"text":{"field":"t"}}}
]},
{"layer":[
 {"data":{"values":[{"a":1}]},"mark":{"type":"rect","color":"#ffffff"},
  "encoding":{"x":{"datum":-3.64},"x2":{"datum":54.4},
   "y":{"datum":-0.62,"type":"quantitative","scale":{"domain":[-17.82,6.29],"reverse":true,"nice":false,"zero":false},"axis":null},
   "y2":{"datum":7.35}}},
 {"data":{"name":"tbl"},"transform":[{"filter":"datum.r%2==0"}],"mark":{"type":"rule","color":"#e3e3e3","strokeWidth":15.3},
  "encoding":{"x":{"datum":-3.64},"x2":{"datum":54.4},"y":{"field":"r","type":"quantitative"}}},
 {"data":{"values":[{"a":1}]},"mark":{"type":"rule","color":"#ffffff","strokeWidth":1.5},
  "encoding":{"x":{"datum":23.94},"y":{"datum":-0.55},"y2":{"datum":7.35}}},
 {"data":{"name":"tbl"},"mark":{"type":"text","align":"left","baseline":"middle","font":"Noto Sans","fontSize":11,"color":"#1e1e1e"},
  "encoding":{"x":{"datum":-2.6},"y":{"field":"r","type":"quantitative"},"text":{"field":"n"}}},
 {"data":{"name":"tbl"},"mark":{"type":"text","align":"right","baseline":"middle","font":"Noto Sans","fontSize":11,"color":"#1e1e1e"},
  "encoding":{"x":{"datum":53.0},"y":{"field":"r","type":"quantitative"},"text":{"field":"val"}}}
]}
],
"resolve":{"scale":{"y":"independent"}}
}
]
}
